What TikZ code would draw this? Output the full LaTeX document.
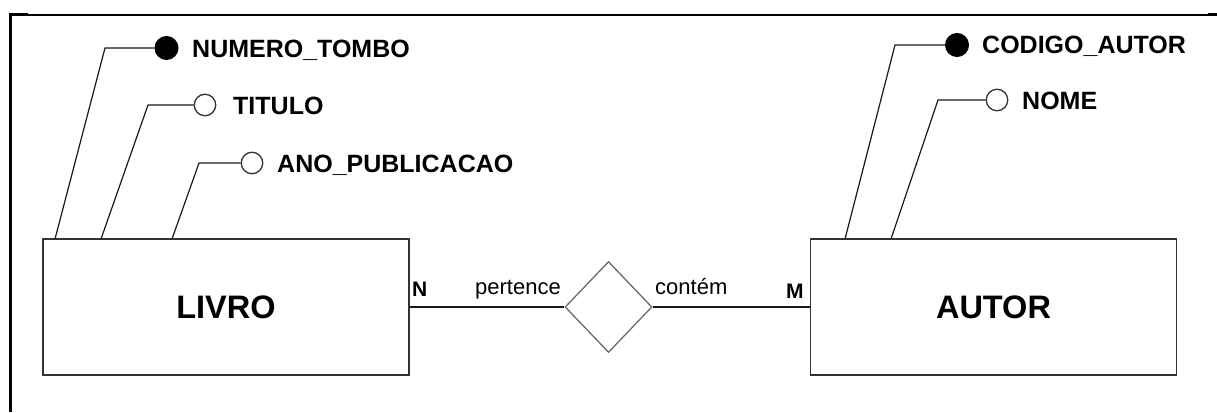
\documentclass[tikz,border=0pt]{standalone}
\usepackage{fontspec}
\setmainfont{Liberation Sans}
\usetikzlibrary{shapes.geometric}
\definecolor{boxline}{HTML}{333333}
\definecolor{relline}{HTML}{6A6A6A}
\begin{document}
\begin{tikzpicture}[x=1pt,y=-1pt,
  entity/.style={draw=boxline,line width=1.5pt,minimum width=366pt,minimum height=136pt,inner sep=0pt,
     font=\fontsize{32.5}{36}\selectfont\bfseries},
  relation/.style={draw=relline,line width=1.3pt,diamond,aspect=0.956,minimum width=87pt,minimum height=91pt,inner sep=0pt},
  keyattr/.style={circle,fill=black,draw=black,line width=1pt,minimum size=23pt,inner sep=0pt},
  attr/.style={circle,fill=white,draw=boxline,line width=1.3pt,minimum size=21.5pt,inner sep=0pt},
  attrtext/.style={anchor=base west,inner sep=0pt,font=\fontsize{25}{29}\selectfont\bfseries},
  reltext/.style={anchor=base west,inner sep=0pt,font=\fontsize{22}{26}\selectfont},
  cardtext/.style={anchor=base west,inner sep=0pt,font=\fontsize{21}{25}\selectfont\bfseries},
  conn/.style={draw=black!90,line width=1.2pt},
  frameline/.style={draw=black,line width=1.2pt}
]
\useasboundingbox (0,0) rectangle (1217,412);
% frame
\draw[frameline] (10,15) -- (1217,15);
\draw[draw=black,line width=3pt] (10,15) -- (28,15);
\draw[draw=black,line width=3pt] (1208,15) -- (1217,15);
\draw[draw=black,line width=3pt] (10,13.5) -- (10,412);

% entities
\node[entity] (livro) at (226,307) {LIVRO};
\node[entity] (autor) at (993.5,307) {AUTOR};
\node[relation] (rel) at (608.5,307) {};

% relationship connectors
\draw[conn] (livro.east) -- (rel.west);
\draw[conn] (rel.east) -- (autor.west);
\node[cardtext] (n) at (412,296) {N};
\node[cardtext] (m) at (786,298) {M};
\node[reltext] (pertence) at (475,294) {pertence};
\node[reltext] (contem) at (655,294) {contém};

% LIVRO attributes
\node[keyattr] (a1) at (166.5,48) {};
\node[attrtext] (a1t) at (192,57) {NUMERO\_TOMBO};
\coordinate (a1b) at (105,48);
\coordinate (a1e) at (55,239);
\draw[conn] (a1.west) -- (a1b) -- (a1e);

\node[attr] (a2) at (205,105) {};
\node[attrtext] (a2t) at (233,114) {TITULO};
\coordinate (a2b) at (148,105);
\coordinate (a2e) at (101,239);
\draw[conn] (a2.west) -- (a2b) -- (a2e);

\node[attr] (a3) at (252,163) {};
\node[attrtext] (a3t) at (277,172) {ANO\_PUBLICACAO};
\coordinate (a3b) at (199,163);
\coordinate (a3e) at (172,239);
\draw[conn] (a3.west) -- (a3b) -- (a3e);

% AUTOR attributes
\node[keyattr] (b1) at (957,45) {};
\node[attrtext] (b1t) at (982,54) {CODIGO\_AUTOR};
\coordinate (b1b) at (895,45);
\coordinate (b1e) at (845,239);
\draw[conn] (b1.west) -- (b1b) -- (b1e);

\node[attr] (b2) at (997,100) {};
\node[attrtext] (b2t) at (1022,109) {NOME};
\coordinate (b2b) at (938,100);
\coordinate (b2e) at (891,239);
\draw[conn] (b2.west) -- (b2b) -- (b2e);
\end{tikzpicture}
\end{document}
